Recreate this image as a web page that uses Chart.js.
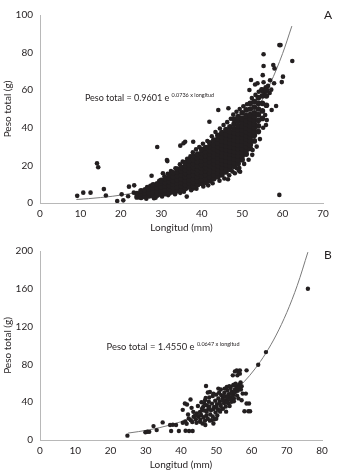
<!DOCTYPE html>
<html>
<head>
<meta charset="utf-8">
<script src="https://cdn.jsdelivr.net/npm/chart.js@4.4.1/dist/chart.umd.min.js"></script>
<style>
  html, body { margin: 0; padding: 0; background: #fff; }
  body { width: 347px; height: 475px; position: relative; overflow: hidden; }
  .panel { position: absolute; left: 0; width: 347px; }
  #wrapA { top: 0; height: 238px; }
  #wrapB { top: 238px; height: 237px; }
</style>
</head>
<body>
<div class="panel" id="wrapA"><canvas id="chartA" width="347" height="238"></canvas></div>
<div class="panel" id="wrapB"><canvas id="chartB" width="347" height="237"></canvas></div>
<script>
// ---- Panel A: longitud (mm) vs peso total (g) ----
// dense part of the cloud, one column of weights per length
var columnasA = [
  [24, [3.2, 5]],
  [25, [3, 4.8, 6.5]],
  [26, [3.5, 5.3, 7]],
  [27, [3.8, 5.6, 7.5]],
  [28, [4, 6, 8, 9.6]],
  [29, [4.3, 6.3, 8.3, 10.2]],
  [30, [4.6, 6.6, 8.6, 10.6, 12]],
  [31, [5, 7, 9, 11, 13]],
  [32, [5.4, 7.4, 9.4, 11.4, 13.4, 15]],
  [33, [6, 8, 10, 12, 14, 16]],
  [34, [6.5, 8.5, 10.5, 12.5, 14.5, 16.5, 18]],
  [35, [7, 9, 11, 13, 15, 17, 19]],
  [36, [7.8, 9.8, 11.8, 13.8, 15.8, 17.8, 19.8, 21.5]],
  [37, [8.5, 10.5, 12.5, 14.5, 16.5, 18.5, 20.5, 22.5]],
  [38, [9, 11, 13, 15, 17, 19, 21, 23, 25]],
  [39, [9.8, 11.8, 13.8, 15.8, 17.8, 19.8, 21.8, 23.8, 26]],
  [40, [10.5, 12.5, 14.5, 16.5, 18.5, 20.5, 22.5, 24.5, 26.5, 28.5]],
  [41, [11, 13, 15, 17, 19, 21, 23, 25, 27, 29.5]],
  [42, [12, 14, 16, 18, 20, 22, 24, 26, 28, 30, 32]],
  [43, [13, 15, 17, 19, 21, 23, 25, 27, 29, 31, 33.5]],
  [44, [14, 16, 18, 20, 22, 24, 26, 28, 30, 32, 34, 36]],
  [45, [15, 17, 19, 21, 23, 25, 27, 29, 31, 33, 35, 37.5]],
  [46, [16.5, 18.5, 20.5, 22.5, 24.5, 26.5, 28.5, 30.5, 32.5, 34.5, 36.5, 39]],
  [47, [18, 20, 22, 24, 26, 28, 30, 32, 34, 36, 38, 40.5]],
  [48, [19.5, 21.5, 23.5, 25.5, 27.5, 29.5, 31.5, 33.5, 35.5, 37.5, 39.5, 42, 44.5]],
  [49, [21, 23, 25, 27, 29, 31, 33, 35, 37, 39, 41, 43.5, 46]],
  [50, [23, 25, 27, 29, 31, 33, 35, 37, 39, 41, 43, 45, 48]],
  [51, [26, 28, 30, 32, 34, 36, 38, 40, 42, 44, 46.5, 49.5]],
  [52, [29, 31, 33, 35, 37, 39, 41, 43, 45, 47, 50, 53]],
  [53, [33, 36, 38, 40, 42, 44, 46, 48, 51, 54]],
  [54, [38, 41, 44, 47, 50, 53, 56]],
  [55, [45, 49, 53, 57, 60]],
  [56, [52, 57, 60]]
];

// edges of the cloud and loose points
var dispersosA = [
  [26.5, 8.5], [27.3, 9.2], [29.5, 11.8], [30.8, 14.2], [31.6, 15.5], [32.4, 17], [33.5, 18.5],
  [34.6, 20.6], [35.3, 22], [36.4, 23.5], [37.2, 24.8], [37.8, 27], [38.6, 28.5], [39.4, 29.8],
  [40.3, 31.5], [41.4, 33], [42.5, 35.5], [43.4, 37.8], [44.5, 39.6], [45.4, 41.5], [46.3, 43],
  [47.2, 44.8], [47.8, 47], [48.6, 48.5], [49.4, 50], [50.3, 51.5], [51.2, 52.5], [52.4, 55.8],
  [53.3, 57.5], [54.1, 59.2], [54.8, 60.5], [55.8, 61.5], [56.4, 62.3], [57.2, 60.3], [55.5, 59],
  [56.8, 58.5],
  [26.3, 2.3], [28.6, 2.8], [30.2, 3.5], [31.7, 4.2], [33.4, 4.7], [34.7, 5.4], [35.6, 6],
  [37.4, 6.8], [38.7, 7.6], [40.4, 8.8], [41.6, 9.4], [42.7, 10.5], [44.4, 11.8], [45.6, 13],
  [46.8, 14.8], [47.6, 16.8], [49.3, 18.6], [50.5, 20.8], [51.6, 23], [52.5, 25.6], [53.6, 30],
  [54.4, 34], [55.2, 40],
  [9.2, 3.8], [10.7, 5.5], [12.5, 5.5], [14.1, 21.1], [14.4, 19], [15.8, 7.4], [16.3, 4],
  [19.1, 1.1], [20.6, 1.4], [20.2, 4.6], [22, 8.7], [23.3, 9.4], [21.8, 3.6], [23.2, 5.5],
  [29, 29.8], [27.6, 14.5], [28.2, 2.5], [31.5, 22.3], [30.4, 15.8], [34.7, 30.5], [35.9, 32.6],
  [35.5, 31.8], [37.9, 32.6], [31.4, 22.9], [36.3, 3.4], [38, 7.8], [41.9, 43.2], [46.5, 12.6],
  [48.2, 15.8], [49.2, 17.2], [48.7, 18.5], [49.5, 16.6], [44.1, 49.5], [46.6, 50.4],
  [52.2, 65.4], [51.8, 60.1], [53.2, 63], [53.8, 63.7], [55.3, 64.2], [55.3, 79.1], [55.3, 72.9],
  [55.1, 68], [57.7, 73.4], [58, 71.6], [59.2, 84], [59.5, 84], [62.4, 75.5], [60.1, 67.2],
  [59.8, 64.3], [56.9, 65.3], [57.9, 63.7], [58.4, 51.6], [57.3, 49.5], [55.7, 46.8],
  [55.9, 41.5], [52.6, 28.2], [59.2, 4.3], [56.1, 44.1]
];

// fitted curve: Peso total = 0.9601 e^(0.0736 x longitud)
var curvaLongA = [9, 12, 15, 18, 21, 24, 27, 30, 33, 36, 39, 42, 45, 48, 51, 54, 57, 60, 62.3];
var curvaPesoA = [1.86, 2.32, 2.90, 3.61, 4.50, 5.62, 7.00, 8.73, 10.89, 13.58, 16.94, 21.13,
                  26.35, 32.86, 40.97, 51.10, 63.72, 79.46, 94.1];

// ---- Panel B ----
var puntosB = [
  [24.8, 4.6], [29.9, 8.2], [30.5, 8.8], [31, 8.6], [32.2, 14.7], [33.1, 10.5], [34.8, 18.6],
  [36.9, 15.8], [37.7, 16.2], [38.6, 15.8], [37.2, 9.5], [39.4, 9.5], [41.3, 9.8], [42.3, 9.5],
  [43.3, 9.5], [40.5, 31.9], [41.1, 38.6], [41.7, 37.6], [42.7, 42.8], [40.5, 18.2], [41.2, 19.5],
  [41.6, 17.2], [42.2, 22.8], [42.8, 21], [43.2, 19], [43.6, 24.6], [44.2, 22], [44.5, 28.1],
  [44, 26], [45, 24.6], [45.4, 29.8], [45.5, 21.5], [46, 31.6], [46.3, 35.1], [46.6, 38.6],
  [47.3, 36.8], [44.4, 18.2], [45.4, 19.3], [46.1, 17.5], [46.8, 20.4], [46.9, 15.8], [49.2, 17.5],
  [47.3, 29.8], [47.8, 33], [48.3, 27], [48.5, 31.5], [49, 25], [49.4, 35], [49.8, 29], [50.2, 38],
  [50.5, 32], [51, 41], [51.3, 36], [51.8, 44], [52.2, 39], [52.6, 46], [53, 42], [53.5, 48.5],
  [54, 45], [54.4, 51], [54.8, 47.5], [55.3, 53.5], [55.7, 56.5], [56.1, 52], [56.5, 58.5],
  [56.9, 61], [57.2, 57], [55, 58.5], [54.1, 55], [53.2, 52.5], [52.3, 50], [51.4, 47.5],
  [50.6, 44], [49.7, 41.5], [48.8, 38.5], [47.9, 40.5], [47, 44.5], [45.7, 26.5], [46.4, 24],
  [47.2, 26], [47.6, 22.5], [48.2, 20.5], [49.5, 22], [50.3, 26], [51.1, 30], [51.9, 33],
  [52.7, 35.5], [53.4, 39], [54.3, 40.5], [55, 44], [55.9, 47], [56.3, 44],
  [43.5, 29.8], [44.4, 26.3], [48.7, 21], [51.1, 31.6], [42, 27], [43, 34], [44.8, 36], [45.8, 40],
  [46.8, 42], [48, 45], [49, 46.5], [50, 48], [50.8, 50], [52, 47], [53.2, 45], [54.2, 49],
  [55.3, 50.5], [56.2, 55], [57, 53.5], [53.8, 36], [52.8, 30], [50, 22.5], [46, 33.5], [47, 31],
  [48, 35.5], [49.2, 32.5], [50.1, 35], [51, 38.5], [52, 42], [53, 40], [54, 43], [55, 41],
  [47.1, 57.2], [47.6, 50.2], [48.2, 50.8], [49.2, 49.1], [50.6, 54.4], [51.3, 53.5], [52.4, 54.4],
  [53, 56.1], [53.7, 56.8], [54.8, 57.9], [55.5, 59.6], [55.8, 73.7], [56.3, 71.9], [56.7, 73.7],
  [56, 68.4], [54.7, 68.4], [55.3, 72.6], [56.7, 70.2], [58.6, 73.7], [57.5, 49.1], [58.4, 49.1],
  [58.6, 38.6], [59.3, 38.6], [58, 30.5], [59.1, 30.5], [59.6, 30.5], [57.2, 42], [61.9, 79.6],
  [64.1, 93], [76, 160]
];

// fitted curve: Peso total = 1.4550 e^(0.0647 x longitud)
var curvaLongB = [25, 28, 31, 34, 37, 40, 43, 46, 49, 52, 55, 58, 61, 64, 67, 70, 73, 76];
var curvaPesoB = [7.33, 8.91, 10.81, 13.13, 15.94, 19.36, 23.50, 28.54, 34.65, 42.07, 51.09,
                  62.03, 75.32, 91.45, 111.04, 134.83, 163.71, 198.8];

var ticksYA = { min: 0, max: 100, step: 20 };
var ticksXA = { min: 0, max: 70, step: 10 };
var ticksYB = { min: 0, max: 200, step: 40 };
var ticksXB = { min: 0, max: 80, step: 10 };

var tinta = '#231f20';
var fuente = 'Lato';

function aPuntos(pares) {
  return pares.map(function (p) { return { x: p[0], y: p[1] }; });
}
function columnasAPuntos(cols) {
  var out = [];
  cols.forEach(function (c) {
    c[1].forEach(function (v) { out.push({ x: c[0], y: v }); });
  });
  return out;
}
function curva(xs, ys) {
  return xs.map(function (x, i) { return { x: x, y: ys[i] }; });
}

// equation text and the panel letter
var textoPlugin = {
  id: 'texto',
  afterDraw: function (chart, args, opts) {
    var ctx = chart.ctx;
    var sx = chart.scales.x, sy = chart.scales.y;
    var px = sx.getPixelForValue(opts.ecX), py = sy.getPixelForValue(opts.ecY);
    ctx.save();
    ctx.fillStyle = tinta;
    ctx.textBaseline = 'middle';
    ctx.textAlign = 'left';
    ctx.font = opts.size + 'px ' + fuente;
    ctx.fillText(opts.texto, px, py);
    var w = ctx.measureText(opts.texto + ' ').width;
    ctx.font = opts.supSize + 'px ' + fuente;
    ctx.fillText(opts.sup, px + w, py - 3);
    ctx.font = '12px ' + fuente;
    ctx.textAlign = 'center';
    ctx.fillText(opts.letra, chart.chartArea.right + opts.letraDx, chart.chartArea.top + opts.letraDy);
    ctx.restore();
  }
};

function eje(t, titulo, esY) {
  return {
    type: 'linear',
    min: t.min,
    max: t.max,
    grid: { display: false, drawTicks: false },
    border: { display: true, color: '#b8b8b8', width: 1, dash: [1, 1] },
    ticks: {
      stepSize: t.step,
      autoSkip: false,
      color: tinta,
      padding: esY ? 7 : 5,
      font: { family: fuente, size: 10 }
    },
    title: {
      display: true,
      text: titulo,
      color: tinta,
      font: { family: fuente, size: 10 },
      padding: { top: 2, bottom: 4 }
    },
    afterFit: function (scale) {
      if (esY) scale.width = 40; else scale.height = 35;
    }
  };
}

function serie(datos, radio, orden) {
  return {
    data: datos,
    backgroundColor: tinta,
    borderColor: tinta,
    borderWidth: 0,
    pointRadius: radio,
    pointHoverRadius: radio,
    order: orden
  };
}

function grafico(id, series, lineaPts, tx, ty, pad, texto) {
  var datasets = series.concat([{
    type: 'line',
    data: lineaPts,
    borderColor: '#7a7a7a',
    borderWidth: 1,
    pointRadius: 0,
    fill: false,
    cubicInterpolationMode: 'monotone',
    order: 5
  }]);
  return new Chart(document.getElementById(id), {
    type: 'scatter',
    data: { datasets: datasets },
    options: {
      responsive: false,
      animation: false,
      layout: { padding: pad },
      plugins: {
        legend: { display: false },
        tooltip: { enabled: false },
        texto: texto
      },
      scales: {
        x: eje(tx, 'Longitud (mm)', false),
        y: eje(ty, 'Peso total (g)', true)
      }
    },
    plugins: [textoPlugin]
  });
}

grafico('chartA',
  [serie(columnasAPuntos(columnasA), 2.85, 0), serie(aPuntos(dispersosA), 2.3, 1)],
  curva(curvaLongA, curvaPesoA),
  ticksXA, ticksYA,
  { top: 15, right: 24, left: 0, bottom: 0 },
  { texto: 'Peso total = 0.9601 e', sup: '0.0736 x longitud', ecX: 11.1, ecY: 55.7,
    size: 9, supSize: 5.5, letra: 'A', letraDx: 5, letraDy: 0 });

grafico('chartB',
  [serie(aPuntos(puntosB), 2.2, 0)],
  curva(curvaLongB, curvaPesoB),
  ticksXB, ticksYB,
  { top: 12, right: 25, left: 0, bottom: 0 },
  { texto: 'Peso total = 1.4550 e', sup: '0.0647 x longitud', ecX: 18.9, ecY: 98.2,
    size: 9.4, supSize: 5.5, letra: 'B', letraDx: 6, letraDy: 4 });
</script>
</body>
</html>
